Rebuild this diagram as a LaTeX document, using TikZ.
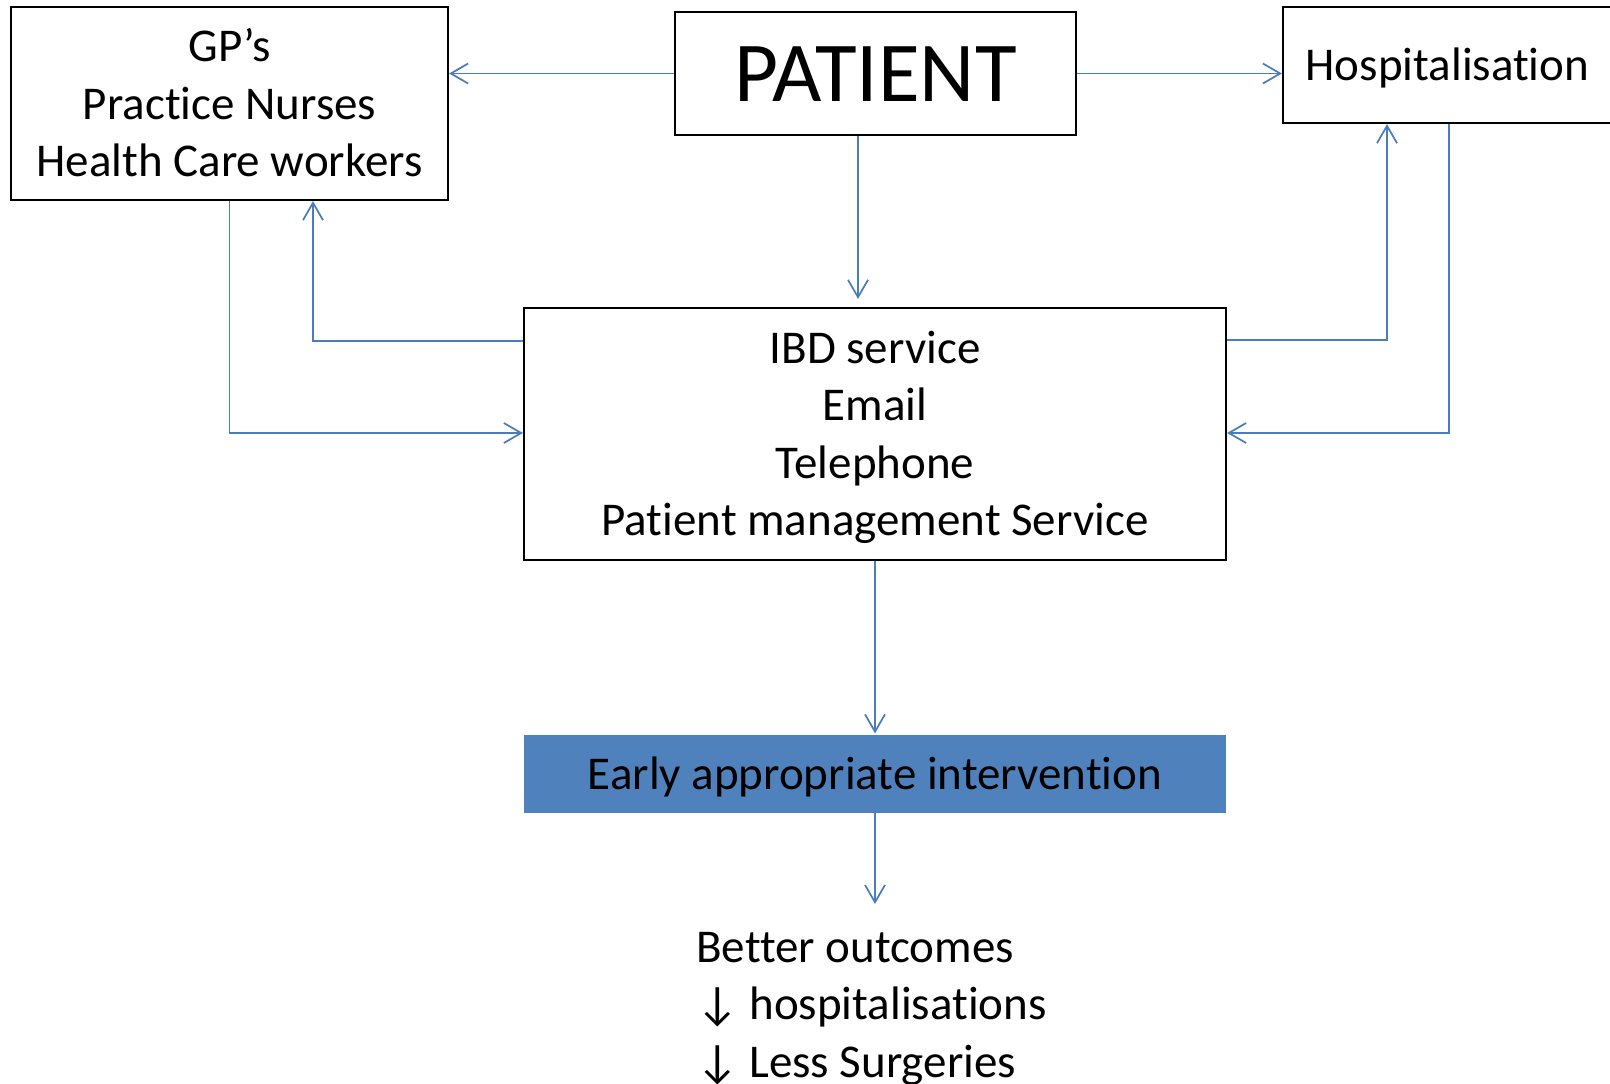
\documentclass[tikz,border=0pt]{standalone}
\usepackage{fontspec}
\setmainfont[Ligatures=NoCommon,RawFeature=-liga]{Carlito}
\usetikzlibrary{arrows.meta,calc}
\definecolor{conn}{RGB}{74,126,187}
\definecolor{fillblue}{RGB}{79,129,189}
\newcommand\lnstrut{\rule[-0.28em]{0pt}{1.22em}}
\begin{document}
\begin{tikzpicture}[x=0.75pt,y=-0.75pt,
  box/.style={draw=black,line width=1.6pt,inner sep=0pt,align=center,
    font=\fontsize{35.25}{43.1}\selectfont},
  conn/.style={draw=conn,line width=1.3pt,
    -{Straight Barb[length=13pt,width=15pt,line width=1.3pt]}},
  txt/.style={font=\fontsize{35.25}{43.1}\selectfont}]
\useasboundingbox (0,0) rectangle (1610,1084);
\node[box,minimum width=327.75pt,minimum height=144.75pt] (gp) at (229.5,103.5)
  {\lnstrut GP’s\\\lnstrut Practice Nurses\\\lnstrut Health Care workers};
\node[box,minimum width=300.75pt,minimum height=92.25pt,
  font=\fontsize{64}{70}\selectfont] (patient) at (875.5,73.5) {\lnstrut PATIENT};
\node[box,minimum width=246.75pt,minimum height=87pt] (hosp) at (1447.5,65)
  {\lnstrut Hospitalisation};
\node[box,minimum width=526.5pt,minimum height=189pt] (ibd) at (875,434)
  {\lnstrut IBD service\\\lnstrut Email\\\lnstrut Telephone\\\lnstrut Patient management Service};
\node[fill=fillblue,inner sep=0pt,minimum width=526.5pt,minimum height=58.5pt,txt]
  (early) at (875,774) {\lnstrut Early appropriate intervention};
\node[txt,anchor=north west,inner sep=0pt,align=left] (out) at (696,932)
  {Better outcomes\\↓ hospitalisations\\↓ Less Surgeries};
% connectors
\draw[conn] (patient.west) -- (patient.west -| gp.east);
\draw[conn] (patient.east) -- (patient.east -| hosp.west);
\draw[conn,shorten >=6pt] (858,0 |- patient.south) -- (858,0 |- ibd.north);
\draw[conn] (ibd.west |- 0,341) -- (313,341) -- (313,0 |- gp.south);
\draw[conn] (gp.south) -- (gp.south |- 0,433) -- (ibd.west |- 0,433);
\draw[conn] (ibd.east |- 0,340) -- (1387,340) -- (1387,0 |- hosp.south);
\draw[conn] (1449,0 |- hosp.south) -- (1449,433) -- (ibd.east |- 0,433);
\draw[conn,shorten >=1pt] (ibd.south) -- (early.north);
\draw[conn,shorten >=21pt] (early.south) -- (early.south |- out.north);
\end{tikzpicture}
\end{document}
